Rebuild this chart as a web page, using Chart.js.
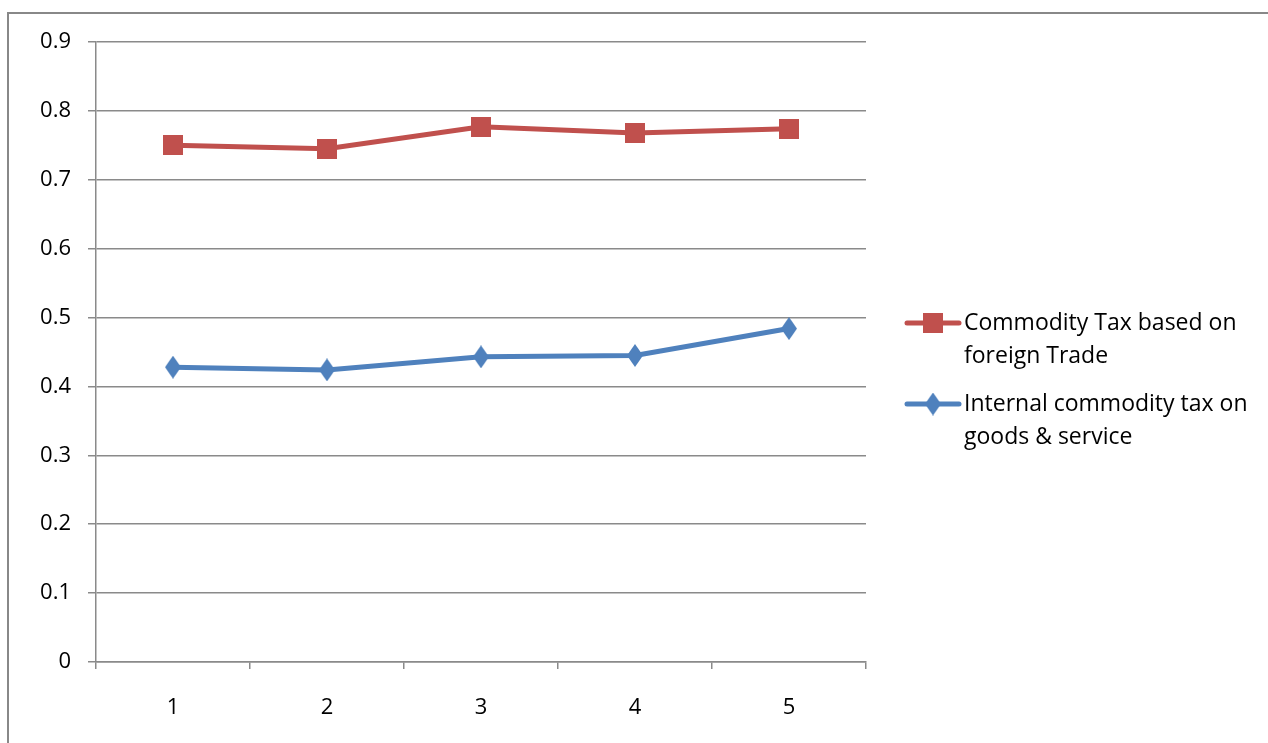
<!DOCTYPE html>
<html>
<head>
<meta charset="utf-8">
<script src="https://cdn.jsdelivr.net/npm/chart.js@4.4.1/dist/chart.umd.min.js"></script>
<style>
  html, body { margin: 0; padding: 0; background: #ffffff; }
  #wrap { position: relative; width: 1268px; height: 743px; }
  canvas { display: block; }
</style>
</head>
<body>
<div id="wrap"><canvas id="c" width="1268" height="743"></canvas></div>
<script>
// Periods on the x axis
const categories = ['1', '2', '3', '4', '5'];

// Commodity tax based on foreign trade
const foreignTrade = [0.750, 0.745, 0.777, 0.768, 0.774];

// Internal commodity tax on goods & services
const internalTax = [0.428, 0.424, 0.443, 0.445, 0.484];

// Series labels, each split over two legend lines
const seriesLabels = [
  ['Commodity Tax based on', 'foreign Trade'],
  ['Internal commodity tax on', 'goods & service']
];

const RED = '#C0504D';
const BLUE = '#4F81BD';
const GRID = '#8a8a8a';
const FONT = "'Open Sans', 'Liberation Sans', sans-serif";

function squareMarker(color, side) {
  const cv = document.createElement('canvas');
  cv.width = side; cv.height = side;
  const g = cv.getContext('2d');
  g.fillStyle = color;
  g.fillRect(0, 0, side, side);
  return cv;
}

function diamondMarker(color, w, h) {
  const cv = document.createElement('canvas');
  cv.width = w; cv.height = h;
  const g = cv.getContext('2d');
  g.fillStyle = color;
  g.beginPath();
  g.moveTo(w / 2, 0);
  g.lineTo(w, h / 2);
  g.lineTo(w / 2, h);
  g.lineTo(0, h / 2);
  g.closePath();
  g.fill();
  return cv;
}

const redMark = squareMarker(RED, 20);
const blueMark = diamondMarker(BLUE, 16, 23);

// Outer frame of the chart object
const framePlugin = {
  id: 'frame',
  beforeDraw(chart) {
    const ctx = chart.ctx;
    ctx.save();
    ctx.strokeStyle = '#888888';
    ctx.lineWidth = 2;
    ctx.beginPath();
    ctx.moveTo(8, 743);
    ctx.lineTo(8, 13);
    ctx.lineTo(1268, 13);
    ctx.stroke();
    ctx.restore();
  }
};

// Legend to the right of the plot: line with marker, two-line label
const sideLegend = {
  id: 'sideLegend',
  afterDraw(chart) {
    const ctx = chart.ctx;
    const rows = [
      { y: 323, mark: chart.data.datasets[0].pointStyle, color: chart.data.datasets[0].borderColor, text: seriesLabels[0] },
      { y: 404, mark: chart.data.datasets[1].pointStyle, color: chart.data.datasets[1].borderColor, text: seriesLabels[1] }
    ];
    ctx.save();
    rows.forEach(r => {
      ctx.strokeStyle = r.color;
      ctx.lineWidth = 5;
      ctx.lineCap = 'round';
      ctx.beginPath();
      ctx.moveTo(907, r.y);
      ctx.lineTo(959, r.y);
      ctx.stroke();
      ctx.drawImage(r.mark, 933 - r.mark.width / 2, r.y - r.mark.height / 2);
      ctx.fillStyle = '#000000';
      ctx.font = '23px ' + FONT;
      ctx.textBaseline = 'middle';
      ctx.textAlign = 'left';
      ctx.fillText(r.text[0], 964, r.y);
      ctx.fillText(r.text[1], 964, r.y + 33);
    });
    ctx.restore();
  }
};

new Chart(document.getElementById('c'), {
  type: 'line',
  data: {
    labels: categories,
    datasets: [
      {
        label: seriesLabels[0].join(' '),
        data: foreignTrade,
        borderColor: RED,
        backgroundColor: RED,
        borderWidth: 5,
        tension: 0,
        pointStyle: redMark,
        pointRadius: 10
      },
      {
        label: seriesLabels[1].join(' '),
        data: internalTax,
        borderColor: BLUE,
        backgroundColor: BLUE,
        borderWidth: 5,
        tension: 0,
        pointStyle: blueMark,
        pointRadius: 10
      }
    ]
  },
  options: {
    responsive: false,
    animation: false,
    layout: { padding: { left: 0, top: 42, right: 402, bottom: 0 } },
    plugins: {
      legend: { display: false },
      tooltip: { enabled: false }
    },
    scales: {
      x: {
        offset: true,
        grid: {
          offset: true,
          drawOnChartArea: false,
          drawTicks: true,
          tickLength: 7,
          color: GRID,
          lineWidth: 1.5
        },
        border: { display: true, color: GRID, width: 1.5 },
        ticks: {
          color: '#000000',
          font: { family: FONT, size: 22 },
          padding: 26,
          maxRotation: 0
        },
        afterFit(scale) { scale.height = 81; }
      },
      y: {
        min: 0,
        max: 0.9,
        grid: {
          color: GRID,
          lineWidth: 1.5,
          drawTicks: true,
          tickLength: 8
        },
        border: { display: true, color: GRID, width: 1.5 },
        ticks: {
          stepSize: 0.1,
          color: '#000000',
          font: { family: FONT, size: 22 },
          padding: 17,
          callback(v) { return Math.round(v * 10) / 10 + ''; }
        },
        afterFit(scale) { scale.width = 96; }
      }
    }
  },
  plugins: [framePlugin, sideLegend]
});
</script>
</body>
</html>
